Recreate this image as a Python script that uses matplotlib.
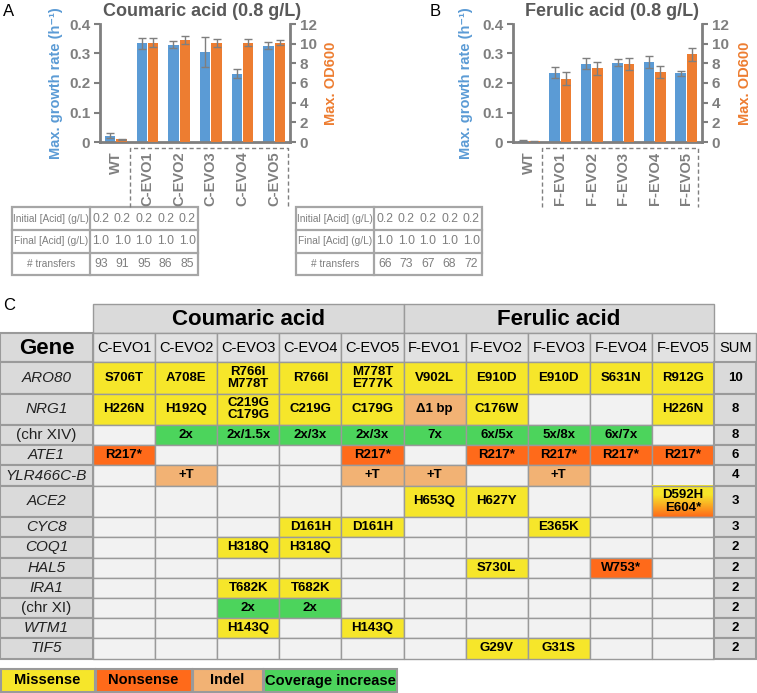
import numpy as np
import matplotlib
matplotlib.use('Agg')
import matplotlib.pyplot as plt
from matplotlib.patches import Rectangle
from matplotlib.ticker import FuncFormatter, MultipleLocator
from matplotlib.colors import to_rgb
from matplotlib import font_manager

plt.rcParams['font.family'] = ['Liberation Sans', 'DejaVu Sans']

# ---------------- Data ----------------
strains_c = ['WT', 'C-EVO1', 'C-EVO2', 'C-EVO3', 'C-EVO4', 'C-EVO5']
rate_c = [0.022, 0.334, 0.330, 0.305, 0.232, 0.327]
rate_c_err = [0.010, 0.020, 0.013, 0.050, 0.015, 0.013]
od_c = [0.27, 10.1, 10.4, 10.07, 10.1, 10.1]
od_c_err = [0.05, 0.45, 0.40, 0.40, 0.35, 0.25]

strains_f = ['WT', 'F-EVO1', 'F-EVO2', 'F-EVO3', 'F-EVO4', 'F-EVO5']
rate_f = [0.003, 0.235, 0.266, 0.269, 0.272, 0.233]
rate_f_err = [0.003, 0.019, 0.020, 0.012, 0.021, 0.008]
od_f = [0.07, 6.45, 7.50, 7.94, 7.13, 8.92]
od_f_err = [0.02, 0.70, 0.65, 0.60, 0.58, 0.64]

evo_table_rows = ['Initial [Acid] (g/L)', 'Final [Acid] (g/L)', '# transfers']
initial_c = ['0.2', '0.2', '0.2', '0.2', '0.2']
final_c = ['1.0', '1.0', '1.0', '1.0', '1.0']
transfers_c = ['93', '91', '95', '86', '85']
initial_f = ['0.2', '0.2', '0.2', '0.2', '0.2']
final_f = ['1.0', '1.0', '1.0', '1.0', '1.0']
transfers_f = ['66', '73', '67', '68', '72']

mut_strains = ['C-EVO1', 'C-EVO2', 'C-EVO3', 'C-EVO4', 'C-EVO5',
               'F-EVO1', 'F-EVO2', 'F-EVO3', 'F-EVO4', 'F-EVO5']
genes = ['ARO80', 'NRG1', '(chr XIV)', 'ATE1', 'YLR466C-B', 'ACE2', 'CYC8',
         'COQ1', 'HAL5', 'IRA1', '(chr XI)', 'WTM1', 'TIF5']
gene_italic = [True, True, False, True, True, True, True, True, True, True, False, True, True]
gene_sum = [10, 8, 8, 6, 4, 3, 3, 2, 2, 2, 2, 2, 2]
mut_text = [
    ['S706T', 'A708E', 'R766I\nM778T', 'R766I', 'M778T\nE777K', 'V902L', 'E910D', 'E910D', 'S631N', 'R912G'],
    ['H226N', 'H192Q', 'C219G\nC179G', 'C219G', 'C179G', 'Δ1 bp', 'C176W', '', '', 'H226N'],
    ['', '2x', '2x/1.5x', '2x/3x', '2x/3x', '7x', '6x/5x', '5x/8x', '6x/7x', ''],
    ['R217*', '', '', '', 'R217*', '', 'R217*', 'R217*', 'R217*', 'R217*'],
    ['', '+T', '', '', '+T', '+T', '', '+T', '', ''],
    ['', '', '', '', '', 'H653Q', 'H627Y', '', '', 'D592H\nE604*'],
    ['', '', '', 'D161H', 'D161H', '', '', 'E365K', '', ''],
    ['', '', 'H318Q', 'H318Q', '', '', '', '', '', ''],
    ['', '', '', '', '', '', 'S730L', '', 'W753*', ''],
    ['', '', 'T682K', 'T682K', '', '', '', '', '', ''],
    ['', '', '2x', '2x', '', '', '', '', '', ''],
    ['', '', 'H143Q', '', 'H143Q', '', '', '', '', ''],
    ['', '', '', '', '', '', 'G29V', 'G31S', '', ''],
]
mut_type = [
    ['M', 'M', 'M', 'M', 'M', 'M', 'M', 'M', 'M', 'M'],
    ['M', 'M', 'M', 'M', 'M', 'I', 'M', '', '', 'M'],
    ['', 'C', 'C', 'C', 'C', 'C', 'C', 'C', 'C', ''],
    ['N', '', '', '', 'N', '', 'N', 'N', 'N', 'N'],
    ['', 'I', '', '', 'I', 'I', '', 'I', '', ''],
    ['', '', '', '', '', 'M', 'M', '', '', 'MN'],
    ['', '', '', 'M', 'M', '', '', 'M', '', ''],
    ['', '', 'M', 'M', '', '', '', '', '', ''],
    ['', '', '', '', '', '', 'M', '', 'N', ''],
    ['', '', 'M', 'M', '', '', '', '', '', ''],
    ['', '', 'C', 'C', '', '', '', '', '', ''],
    ['', '', 'M', '', 'M', '', '', '', '', ''],
    ['', '', '', '', '', '', 'M', 'M', '', ''],
]
legend_labels = ['Missense', 'Nonsense', 'Indel', 'Coverage increase']
legend_keys = ['M', 'N', 'I', 'C']

# ---------------- Styles ----------------
BLUE = '#5B9BD5'
ORANGE = '#ED7D31'
GRAY = '#7F7F7F'
DARK = '#595959'
TYPE_COLORS = {'M': '#F6E62A', 'N': '#FF6A1A', 'I': '#F2B274', 'C': '#4CD45C', '': '#F2F2F2'}
HEAD_BG = '#DADADA'
GRID = '#9A9A9A'

_names = {f.name for f in font_manager.fontManager.ttflist}
if 'Liberation Sans Narrow' in _names:
    LAB_FONT = dict(family=['Liberation Sans Narrow', 'Liberation Sans'], fontsize=9.5)
    VAL_FONT = dict(family=['Liberation Sans Narrow', 'Liberation Sans'], fontsize=9.5)
else:
    LAB_FONT = dict(family=['Liberation Sans', 'DejaVu Sans'], fontsize=7.3)
    VAL_FONT = dict(family=['Liberation Sans', 'DejaVu Sans'], fontsize=8.8)

W, H = 757, 693
fig = plt.figure(figsize=(W / 100, H / 100), dpi=100)
ov = fig.add_axes([0, 0, 1, 1])
ov.set_xlim(0, W)
ov.set_ylim(H, 0)
ov.axis('off')


def px_rect(l, t, r, b):
    return [l / W, 1 - b / H, (r - l) / W, (b - t) / H]


def bar_panel(rect, cats, rate, rate_err, od, od_err, title, title_x, ylab_x, ylab2_x):
    ax = fig.add_axes(rect)
    ax2 = ax.twinx()
    x = np.arange(len(cats))
    w = 0.33
    ekw = dict(ecolor=GRAY, elinewidth=1, capsize=3, capthick=1)
    ax.bar(x - w / 2 - 0.015, rate, w, yerr=rate_err, color=BLUE, error_kw=ekw, zorder=2)
    ax2.bar(x + w / 2 + 0.015, od, w, yerr=od_err, color=ORANGE, error_kw=ekw, zorder=2)
    ax.set_xlim(-0.5, len(cats) - 0.5)
    ax.set_ylim(0, 0.4)
    ax2.set_ylim(0, 12)
    ax.yaxis.set_major_locator(MultipleLocator(0.1))
    ax2.yaxis.set_major_locator(MultipleLocator(2))
    ax.yaxis.set_major_formatter(FuncFormatter(lambda v, p: '0' if abs(v) < 1e-9 else f'{v:.1f}'))
    ax2.yaxis.set_major_formatter(FuncFormatter(lambda v, p: f'{v:.0f}'))
    for a in (ax, ax2):
        a.spines['top'].set_visible(False)
        for s in a.spines.values():
            s.set_color(GRAY)
            s.set_linewidth(2)
        a.patch.set_visible(False)
    ax2.spines['left'].set_visible(False)
    ax2.spines['bottom'].set_visible(False)
    ax.spines['right'].set_visible(False)
    ax.set_xticks(x)
    ax.set_xticklabels(cats, rotation=90, fontsize=10.5, fontweight='bold', color=GRAY)
    ax.tick_params(axis='x', length=0, pad=7)
    ax.tick_params(axis='y', colors=GRAY, labelsize=11, length=4, width=1.5, pad=3)
    ax2.tick_params(axis='y', colors=GRAY, labelsize=11, length=4, width=1.5, pad=3)
    for lab in ax.get_yticklabels() + ax2.get_yticklabels():
        lab.set_fontweight('bold')
    ax.set_ylabel('Max. growth rate (h⁻¹)', color=BLUE, fontweight='bold', fontsize=10.5)
    ax2.set_ylabel('Max. OD600', color=ORANGE, fontweight='bold', fontsize=10.5)
    ax.yaxis.set_label_coords(ylab_x, 0.5)
    ax2.yaxis.set_label_coords(ylab2_x, 0.5)
    fig.text(title_x / W, 1 - 12 / H, title, ha='center', va='center',
             fontsize=13, fontweight='bold', color=DARK)
    return ax


bar_panel(px_rect(100, 24, 290, 142), strains_c, rate_c, rate_c_err, od_c, od_c_err,
          'Coumaric acid (0.8 g/L)', 202, -0.195, 1.18)
bar_panel(px_rect(513, 24, 702, 142), strains_f, rate_f, rate_f_err, od_f, od_f_err,
          'Ferulic acid (0.8 g/L)', 612, -0.21, 1.19)

ov.text(3, 12, 'A', fontsize=12, va='center', ha='left')
ov.text(430, 12, 'B', fontsize=12, va='center', ha='left')
ov.text(3, 306, 'C', fontsize=12, va='center', ha='left')

for (l, r) in [(130, 288), (542, 698)]:
    ov.plot([l, l, r, r], [207, 148, 148, 207], ls=(0, (3, 2)), color=GRAY, lw=1)


def small_table(x0, xc, x1, cols):
    ys = [207, 230, 252.5, 275]
    ov.add_patch(Rectangle((x0, ys[0]), x1 - x0, ys[-1] - ys[0], fill=False,
                           ec='#A6A6A6', lw=1.6))
    for y in ys[1:-1]:
        ov.plot([x0, x1], [y, y], color='#A6A6A6', lw=1.6)
    ov.plot([xc, xc], [ys[0], ys[-1]], color='#A6A6A6', lw=1.6)
    n = len(cols[0])
    step = (x1 - xc) / n
    for i, (lab, vals) in enumerate(zip(evo_table_rows, cols)):
        yc = (ys[i] + ys[i + 1]) / 2
        ov.text((x0 + xc) / 2, yc, lab, ha='center', va='center', color=GRAY, **LAB_FONT)
        for j, v in enumerate(vals):
            ov.text(xc + step * (j + 0.5), yc, v, ha='center', va='center',
                    color=GRAY, **VAL_FONT)


small_table(12, 90, 198, [initial_c, final_c, transfers_c])
small_table(296, 374, 482, [initial_f, final_f, transfers_f])

# ---------------- Panel C table ----------------
gene_w = 93
sum_x0 = 714
col_w = (sum_x0 - gene_w) / len(mut_strains)
col_x = [gene_w + i * col_w for i in range(len(mut_strains) + 1)]
y_top = 304
y_head2 = 333
y_rows0 = 362
row_h = [31.5 if any('\n' in t for t in row) else 20.2 for row in mut_text]
row_y = [y_rows0]
for h in row_h:
    row_y.append(row_y[-1] + h)


def cell(x0, y0, x1, y1, fc, lw=1.0):
    ov.add_patch(Rectangle((x0, y0), x1 - x0, y1 - y0, fc=fc, ec=GRID, lw=lw))


cell(col_x[0], y_top, col_x[5], y_head2, HEAD_BG)
cell(col_x[5], y_top, col_x[10], y_head2, HEAD_BG)
ov.text((col_x[0] + col_x[5]) / 2, (y_top + y_head2) / 2 + 1, 'Coumaric acid',
        ha='center', va='center', fontsize=16, fontweight='bold')
ov.text((col_x[5] + col_x[10]) / 2, (y_top + y_head2) / 2 + 1, 'Ferulic acid',
        ha='center', va='center', fontsize=16, fontweight='bold')
cell(0, y_head2, gene_w, y_rows0, HEAD_BG, 1.5)
ov.text(gene_w / 2, (y_head2 + y_rows0) / 2 + 1, 'Gene', ha='center', va='center',
        fontsize=16, fontweight='bold')
for j, s in enumerate(mut_strains):
    cell(col_x[j], y_head2, col_x[j + 1], y_rows0, '#E2E2E2')
    ov.text((col_x[j] + col_x[j + 1]) / 2, (y_head2 + y_rows0) / 2 + 1, s,
            ha='center', va='center', fontsize=10.5)
cell(sum_x0, y_head2, W - 1, y_rows0, '#E2E2E2')
ov.text((sum_x0 + W) / 2, (y_head2 + y_rows0) / 2 + 1, 'SUM', ha='center', va='center',
        fontsize=10.5)

yel = np.array(to_rgb(TYPE_COLORS['M']))
org = np.array(to_rgb(TYPE_COLORS['N']))
for i, g in enumerate(genes):
    y0, y1 = row_y[i], row_y[i + 1]
    yc = (y0 + y1) / 2
    cell(0, y0, gene_w, y1, HEAD_BG, 1.5)
    ov.text(gene_w / 2, yc, g, ha='center', va='center', fontsize=11,
            style='italic' if gene_italic[i] else 'normal', color='#222222')
    for j in range(len(mut_strains)):
        t = mut_type[i][j]
        if t == 'MN':
            tt = np.clip((np.linspace(0, 1, 64) - 0.3) / 0.7, 0, 1)[:, None]
            grad = (yel * (1 - tt) + org * tt)[:, None, :]
            ov.imshow(grad, extent=(col_x[j], col_x[j + 1], y1, y0), aspect='auto',
                      origin='upper', zorder=1)
            ov.add_patch(Rectangle((col_x[j], y0), col_w, y1 - y0, fill=False, ec=GRID,
                                   lw=1.0, zorder=2))
        else:
            cell(col_x[j], y0, col_x[j + 1], y1, TYPE_COLORS[t])
        if mut_text[i][j]:
            ov.text((col_x[j] + col_x[j + 1]) / 2, yc, mut_text[i][j], ha='center',
                    va='center', fontsize=9.5, fontweight='bold', linespacing=1.05, zorder=3)
    cell(sum_x0, y0, W - 1, y1, HEAD_BG, 1.5)
    ov.text((sum_x0 + W) / 2, yc, str(gene_sum[i]), ha='center', va='center',
            fontsize=9.5, fontweight='bold')

ov.set_xlim(0, W)
ov.set_ylim(H, 0)

leg_x = [0, 95, 192, 263, 397]
for k, (lab, key) in enumerate(zip(legend_labels, legend_keys)):
    cell(leg_x[k] + 0.5, 669, leg_x[k + 1], 692, TYPE_COLORS[key], 1.5)
    ov.text((leg_x[k] + leg_x[k + 1]) / 2, 680.5, lab, ha='center', va='center',
            fontsize=10.5, fontweight='bold')

fig.savefig('out.png', dpi=100)
